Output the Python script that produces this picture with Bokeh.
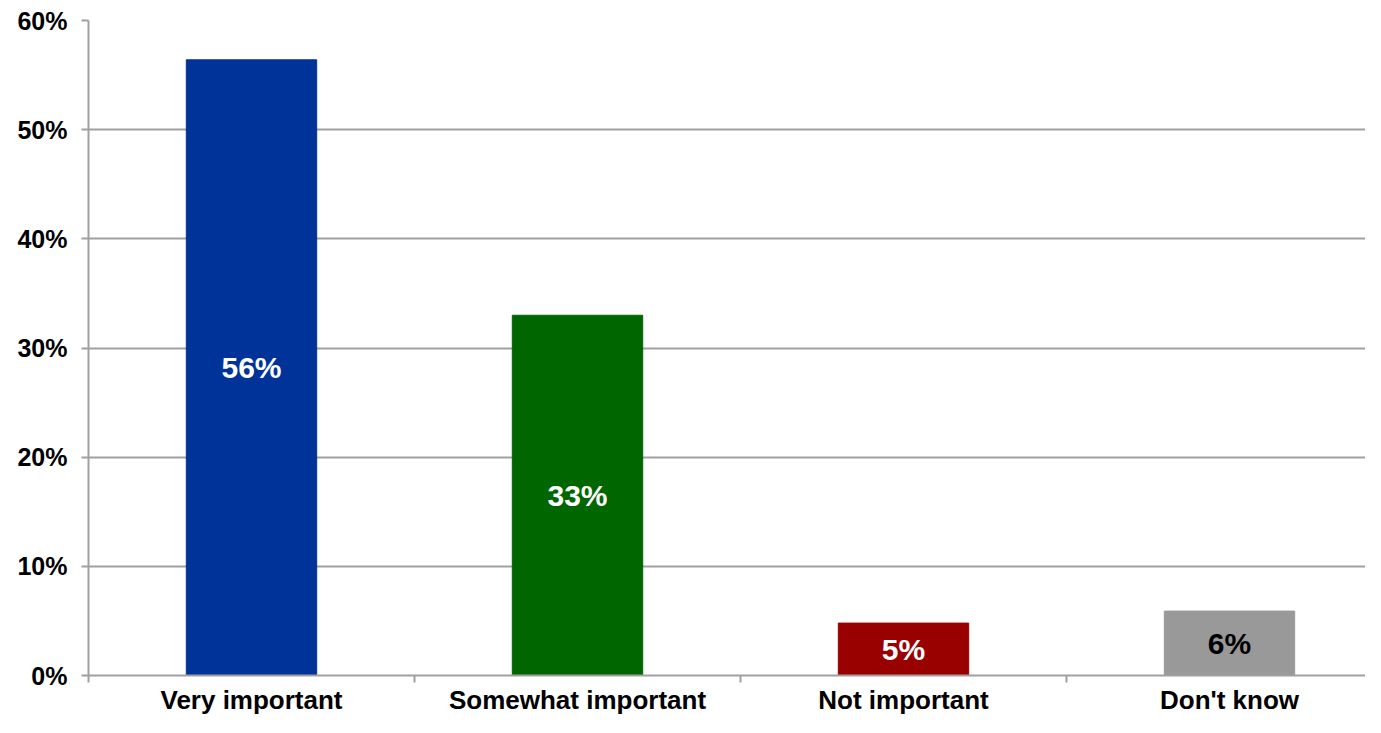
from bokeh.plotting import figure
from bokeh.models import ColumnDataSource, FixedTicker, Range1d
from bokeh.core.properties import value
from bokeh.embed import file_html
from bokeh.resources import INLINE

categories = ["Very important", "Somewhat important", "Not important", "Don't know"]
shares = [56.4, 33.0, 4.8, 5.9]
bar_colors = ["#003399", "#006600", "#990000", "#999999"]
label_colors = ["#ffffff", "#ffffff", "#ffffff", "#000000"]
y_ticks = [0, 10, 20, 30, 40, 50, 60]

FONT = "Liberation Sans"

x_pos = [i + 0.5 for i in range(len(categories))]
src = ColumnDataSource(dict(
    x=x_pos,
    top=shares,
    mid=[v / 2 for v in shares],
    color=bar_colors,
    lab=[f"{round(v)}%" for v in shares],
    lab_color=label_colors,
))

W, H = 1365, 717
left, top = 88, 20
cat_px = 326
x_end = (W - left) / cat_px

p = figure(width=W, height=H, output_backend="svg", toolbar_location=None,
           x_range=Range1d(0, x_end), y_range=Range1d(0, 60),
           min_border_left=left, min_border_top=top, min_border_right=0,
           min_border_bottom=0)
p.outline_line_color = None
p.background_fill_color = "white"
p.border_fill_color = "white"

p.vbar(x="x", top="top", bottom=0, width=0.4, color="color", source=src)
p.text(x="x", y="mid", text="lab", text_color="lab_color", source=src,
       text_align="center", text_baseline="middle",
       text_font=value(FONT), text_font_style="bold", text_font_size="30px")

grid_color = "#a0a0a0"
p.xgrid.visible = False
p.ygrid.ticker = FixedTicker(ticks=y_ticks[1:])
p.ygrid.grid_line_color = grid_color
p.ygrid.grid_line_width = 2

ya = p.yaxis[0]
ya.ticker = FixedTicker(ticks=y_ticks)
ya.major_label_overrides = {t: f"{t}%" for t in y_ticks}
ya.axis_line_color = grid_color
ya.axis_line_width = 2
ya.major_tick_line_color = grid_color
ya.major_tick_line_width = 2
ya.major_tick_out = 7
ya.major_tick_in = 0
ya.minor_tick_line_color = None
ya.major_label_standoff = 14
ya.major_label_text_font = FONT
ya.major_label_text_font_style = "bold"
ya.major_label_text_font_size = "25px"
ya.major_label_text_color = "#000000"

xa = p.xaxis[0]
xa.ticker = FixedTicker(ticks=x_pos, minor_ticks=list(range(len(categories) + 1)))
xa.major_label_overrides = {x: c for x, c in zip(x_pos, categories)}
xa.axis_line_color = grid_color
xa.axis_line_width = 2
xa.major_tick_line_color = None
xa.major_tick_out = 0
xa.major_tick_in = 0
xa.minor_tick_line_color = grid_color
xa.minor_tick_line_width = 2
xa.minor_tick_out = 7
xa.minor_tick_in = 0
xa.major_label_standoff = 2
xa.major_label_text_font = FONT
xa.major_label_text_font_style = "bold"
xa.major_label_text_font_size = "26px"
xa.major_label_text_color = "#000000"

open("out.html", "w").write(file_html(p, INLINE))
